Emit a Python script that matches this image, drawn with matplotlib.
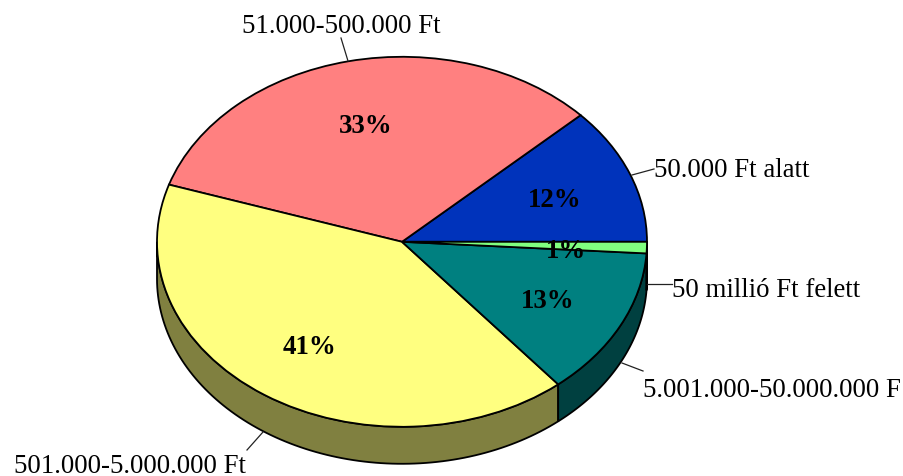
import matplotlib
matplotlib.use("Agg")
import matplotlib.pyplot as plt
import numpy as np

plt.rcParams['font.family'] = ['Liberation Serif', 'DejaVu Serif']

labels = ['50.000 Ft alatt', '51.000-500.000 Ft', '501.000-5.000.000 Ft',
          '5.001.000-50.000.000 F', '50 millió Ft felett']
values = [12, 33, 41, 13, 1]
colors = ['#0033BB', '#FF8080', '#FFFF80', '#008080', '#80FF80']
side_colors = ['#001A5E', '#804040', '#808040', '#004040', '#408040']

# layout of the reference, in pixels
W, H = 904, 477
cx, cy, rx, ry, depth = 402, 242.8, 245, 185, 37
label_pos = [(654, 177), (242, 33), (14, 473.5), (643, 397), (672, 297)]
pct_pos = [(555, 201), (366, 127), (310, 348), (548, 302), (566, 252)]
leaders = [((632, 176), (654, 170)), ((348, 62), (341, 39)), ((263, 433), (247, 451)),
           ((622, 364), (643, 372)), ((647, 285), (672, 285))]


def px(x, y):
    return (x - cx) / rx, (cy - y) / ry


fig = plt.figure(figsize=(W / 100, H / 100), dpi=100)
ax = fig.add_axes([0, 0, 1, 1])

# rim of the pie: only the front half (180-360 deg) shows
edges = np.cumsum([0] + values) * 3.6
d = depth / ry
for t1, t2, c in zip(edges[:-1], edges[1:], side_colors):
    t1, t2 = max(t1, 180), min(t2, 360)
    if t2 <= t1:
        continue
    t = np.radians(np.linspace(t1, t2, 100))
    xs = np.concatenate([np.cos(t), np.cos(t[::-1])])
    ys = np.concatenate([np.sin(t), np.sin(t[::-1]) - d])
    ax.fill(xs, ys, facecolor=c, edgecolor='black', linewidth=1.3, zorder=1)

ax.pie(values, colors=colors, startangle=0, counterclock=True, radius=1,
       wedgeprops={'edgecolor': 'black', 'linewidth': 1.3, 'zorder': 2})
ax.set_aspect('auto')
ax.set_xlim(px(0, 0)[0], px(W, 0)[0])
ax.set_ylim(px(0, H)[1], px(0, 0)[1])
ax.axis('off')

for (a, b) in leaders:
    pa, pb = px(*a), px(*b)
    ax.plot([pa[0], pb[0]], [pa[1], pb[1]], color='#222222', linewidth=0.9, zorder=3)

for lab, p in zip(labels, label_pos):
    x, y = px(*p)
    ax.text(x, y, lab, fontsize=19.4, ha='left', va='baseline', color='black', zorder=4)

for v, p in zip(values, pct_pos):
    x, y = px(*p)
    ax.text(x, y, f'{v}%', fontsize=19.4, fontweight='bold', ha='center', va='center',
            color='black', zorder=4)

fig.savefig('out.png', dpi=100)
